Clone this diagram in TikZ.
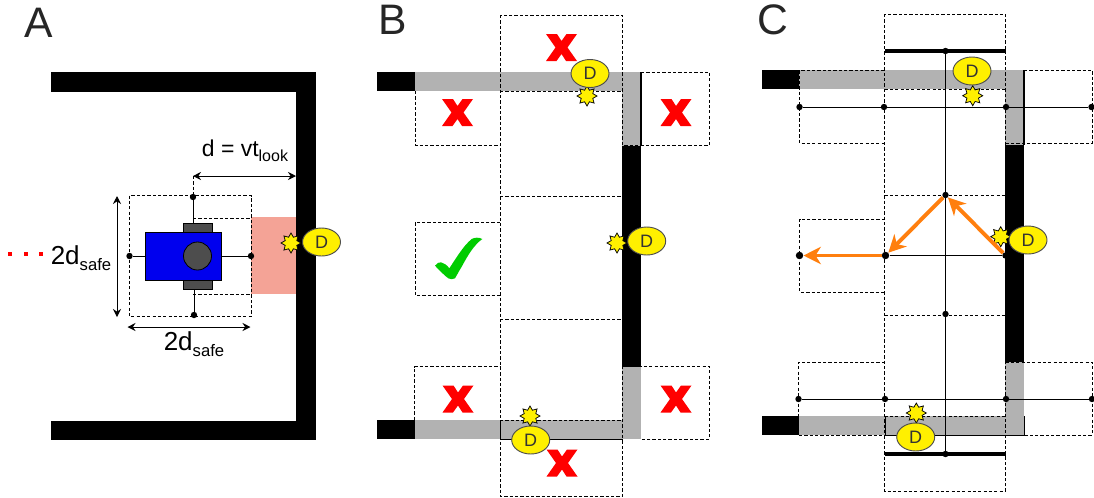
\documentclass[tikz,border=0pt]{standalone}
\usepackage{fontspec}
\setmainfont{Liberation Sans}
\usetikzlibrary{shapes.geometric}
\usetikzlibrary{arrows.meta}
\definecolor{wallgray}{HTML}{B2B2B2}
\definecolor{robotblue}{HTML}{0000EE}
\definecolor{wheelgray}{HTML}{4D4D4D}
\definecolor{zonered}{HTML}{F4A396}
\definecolor{flashyellow}{HTML}{FFF000}
\definecolor{pathorange}{HTML}{FF7F0E}
\definecolor{markgreen}{HTML}{00CC00}
\newcommand{\sublabel}[2]{{\fontsize{19.5}{21}\selectfont #1\raisebox{-4.5pt}{\fontsize{12.5}{13}\selectfont #2}}}
\tikzset{
	box/.style = {draw, line width=0.55pt, dash pattern=on 2.4pt off 1.6pt},
	wall/.style = {fill=black},
	graywall/.style = {fill=wallgray},
	dot/.style = {circle, fill=black, inner sep=0pt, minimum size=4.8pt},
	bigdot/.style = {circle, fill=black, inner sep=0pt, minimum size=5.6pt},
	ray/.style = {line width=0.75pt},
	span/.style = {line width=0.7pt, {Stealth[length=6pt,width=6pt]}-{Stealth[length=6pt,width=6pt]}},
	heavy/.style = {line width=2.6pt},
	hop/.style = {color=pathorange, line width=2.9pt, -{Stealth[length=13pt,width=13pt,inset=4pt]}},
	detect/.style = {ellipse, draw=wheelgray, fill=flashyellow, line width=0.7pt, minimum width=28.5pt, minimum height=21pt, inner sep=0pt, text=black!80, font=\fontsize{13.5}{14}\selectfont},
	flash/.style = {star, star points=8, star point ratio=1.6, draw=black, fill=flashyellow, line width=0.55pt, minimum size=15pt, inner sep=0pt},
	panel/.style = {font=\fontsize{32}{34}\selectfont, text=black!85},
	crossmark/.pic = {
		\fill[red] (-15.5,-13.5) -- (-4.5,-13.5) -- (0,-6.5) -- (5,-13.5) -- (15.5,-13.5) -- (6,0) -- (15.5,13.5) -- (4.5,13.5) -- (0,6.5) -- (-5,13.5) -- (-15.5,13.5) -- (-6,0) -- cycle;
	}
}
\begin{document}
\begin{tikzpicture}[x=0.75pt,y=-0.75pt]
	\useasboundingbox (0,0) rectangle (1094,497);

	% A
	\node[panel] (labelA) at (39,23) {A};
	\fill[zonered] (251,217) rectangle (296,294);
	\fill[wall] (51,72) rectangle (316,92);
	\fill[wall] (296,72) rectangle (316,440);
	\fill[wall] (51,421) rectangle (316,440);
	\draw[box] (129.5,195.5) rectangle (251,316.5);
	\draw[box] (193,218) -- (251,218);
	\draw[box] (193,294) -- (251,294);
	\fill[wheelgray, draw=black, line width=0.5pt] (183,223) rectangle (212,232);
	\fill[wheelgray, draw=black, line width=0.5pt] (183,280) rectangle (212,289);
	\filldraw[fill=robotblue, draw=black, line width=0.5pt] (145,232) rectangle (221,280);
	\filldraw[fill=wheelgray, draw=black, line width=0.6pt] (197.5,256) circle (14);
	\node[dot] (frontA) at (251,256) {};
	\node[dot] (backA) at (129.5,256) {};
	\node[dot] (leftA) at (193,197) {};
	\node[dot] (rightA) at (194,315) {};
	\coordinate (hullfront) at (221,256);
	\coordinate (hullback) at (145,256);
	\coordinate (hullleft) at (193,223);
	\coordinate (hullright) at (194,289);
	\draw[ray] (frontA) -- (hullfront);
	\draw[ray] (backA) -- (hullback);
	\draw[ray] (leftA) -- (hullleft);
	\draw[ray] (rightA) -- (hullright);
	\coordinate (lookstart) at (193,176);
	\coordinate (lookend) at (296,176);
	\draw[box] (lookstart) -- (leftA);
	\draw[span] (lookstart) -- (lookend);
	\coordinate (sideup) at (117,196);
	\coordinate (sidedown) at (117,317);
	\coordinate (widthl) at (127.5,327);
	\coordinate (widthr) at (250.5,327);
	\draw[span] (sideup) -- (sidedown);
	\draw[span] (widthl) -- (widthr);
	\node (looklabel) at (245,151) {\fontsize{17.2}{19}\selectfont d = vt\raisebox{-3.5pt}{\fontsize{12}{13}\selectfont look}};
	\node (sidelabel) at (81,258) {\sublabel{2d}{safe}};
	\node (widthlabel) at (194,344) {\sublabel{2d}{safe}};
	\foreach \x in {10,26,41}
		\fill[red] (\x-2,252) rectangle (\x+2,256);
	\node[flash] (flashA) at (291,243) {};
	\node[detect] (detectA) at (321.5,242) {D};

	% B
	\node[panel] (labelB) at (393,20) {B};
	\fill[wall] (377,72) rectangle (415,91);
	\fill[graywall] (415,72) rectangle (641,91);
	\fill[wall] (622,72) rectangle (641.5,146);
	\fill[graywall] (622,72) rectangle (640,146);
	\fill[wall] (622,146) rectangle (641,367);
	\fill[graywall] (622,367) rectangle (641,439);
	\fill[wall] (377,420) rectangle (415,439);
	\fill[graywall] (415,420) rectangle (641,439);
	\draw[line width=0.6pt] (500,420) -- (500,439) -- (622.5,439);
	\draw[box] (415,91) -- (415,145) -- (500,145);
	\draw[box] (641,72) -- (709.5,72) -- (709.5,145.5) -- (622.5,145.5);
	\draw[box] (500,222) -- (415,222) -- (415,295) -- (500,295);
	\draw[box] (414.5,420) -- (414.5,366.5) -- (500,366.5);
	\draw[box] (622.5,366.5) -- (709.5,366.5) -- (709.5,439) -- (641,439);
	\draw[box] (500,15) rectangle (622.5,496);
	\draw[box] (500,91) -- (622.5,91);
	\draw[box] (500,196.5) -- (622.5,196.5);
	\draw[box] (500,319) -- (622.5,319);
	\draw[box] (500,420) -- (622.5,420);
	\pic at (561.5,47.5) {crossmark};
	\pic at (457.5,112.5) {crossmark};
	\pic at (676,112.5) {crossmark};
	\pic at (458,399) {crossmark};
	\pic at (676,399) {crossmark};
	\pic at (562,463) {crossmark};
	\fill[markgreen] (435,265.7) .. controls (437,263) and (439,262) .. (441,262.3) .. controls (444,263) and (447,265) .. (449.3,268.3) .. controls (455,260) and (463,246) .. (471.7,239) .. controls (474,237.5) and (479,237) .. (482.3,239) .. controls (474,245) and (468,255) .. (461.7,266.7) .. controls (459,271) and (457,275) .. (455,278.3) .. controls (453,279.5) and (450,279.5) .. (448.3,278.3) .. controls (445,276) and (439,270) .. cycle;
	\node[flash] (flashBtop) at (587,96) {};
	\node[detect] (detectBtop) at (590,73.5) {D};
	\node[flash] (flashBmid) at (617,243) {};
	\node[detect] (detectBmid) at (646.7,241) {D};
	\node[flash] (flashBbot) at (530,416) {};
	\node[detect] (detectBbot) at (530.7,440) {D};

	% C
	\node[panel] (labelC) at (773,20) {C};
	\fill[wall] (762,70) rectangle (799,89);
	\fill[graywall] (799,70) rectangle (1024,89);
	\fill[wall] (1005,70) rectangle (1024.7,145);
	\fill[graywall] (1005,70) rectangle (1023.3,145);
	\fill[wall] (1005,145) rectangle (1024,362);
	\fill[graywall] (1005,362) rectangle (1024,435);
	\fill[wall] (762,416) rectangle (799,435);
	\fill[graywall] (799,416) rectangle (1024,435);
	\draw[line width=0.6pt] (885,416) -- (885,435) -- (1024,435) -- (1024,416);
	\draw[box] (884.5,70) -- (799.5,70) -- (799.5,143) -- (884.5,143);
	\draw[box] (1024,70) -- (1092,70) -- (1092,143) -- (1005.5,143);
	\draw[box] (885,219) -- (799.5,219) -- (799.5,292) -- (885,292);
	\draw[box] (885,362) -- (798.5,362) -- (798.5,435) -- (885,435);
	\draw[box] (1005.5,362) -- (1092,362) -- (1092,435) -- (1024,435);
	\draw[box] (884.5,14) rectangle (1005.5,491);
	\draw[box] (884.5,89) -- (1005.5,89);
	\draw[box] (884.5,195) -- (1005.5,195);
	\draw[box] (884.5,315) -- (1005.5,315);
	\draw[box] (884.5,416) -- (1005.5,416);
	\coordinate (capNl) at (885,51);
	\coordinate (capNr) at (1005.5,51);
	\coordinate (capSl) at (885,454);
	\coordinate (capSr) at (1005.5,454);
	\draw[heavy] (capNl) -- (capNr);
	\draw[heavy] (capSl) -- (capSr);
	\node[dot] (north) at (945.5,51) {};
	\node[dot] (upper) at (945.5,195) {};
	\node[dot] (lower) at (945.5,314) {};
	\node[dot] (south) at (945.5,454) {};
	\node[dot] (nfl) at (799.5,107) {};
	\node[dot] (nl) at (884,107) {};
	\node[dot] (nr) at (1006,107) {};
	\node[dot] (nfr) at (1091.5,107) {};
	\node[bigdot] (ml) at (799.5,255.5) {};
	\node[bigdot] (mc) at (885.5,255.5) {};
	\node[dot] (mr) at (1005.5,255.5) {};
	\node[dot] (sfl) at (798.5,399) {};
	\node[dot] (sl) at (885,399) {};
	\node[dot] (sr) at (1006,399) {};
	\node[dot] (sfr) at (1092,399) {};
	\draw[ray] (north) -- (upper) -- (lower) -- (south);
	\draw[ray] (nfl) -- (nl) -- (nr) -- (nfr);
	\draw[ray] (mc) -- (mr);
	\draw[ray] (sfl) -- (sl) -- (sr) -- (sfr);
	\node[flash] (flashCtop) at (972.7,95.7) {};
	\node[detect] (detectCtop) at (972,71) {D};
	\node[flash] (flashCmid) at (1000.7,236.7) {};
	\draw[hop] (mr) -- (upper);
	\draw[hop] (upper) -- (mc);
	\draw[hop] (mc) -- (ml);
	\node[detect] (detectCmid) at (1028,240) {D};
	\node[flash] (flashCbot) at (916.3,413) {};
	\node[detect] (detectCbot) at (915.7,437) {D};
\end{tikzpicture}
\end{document}
